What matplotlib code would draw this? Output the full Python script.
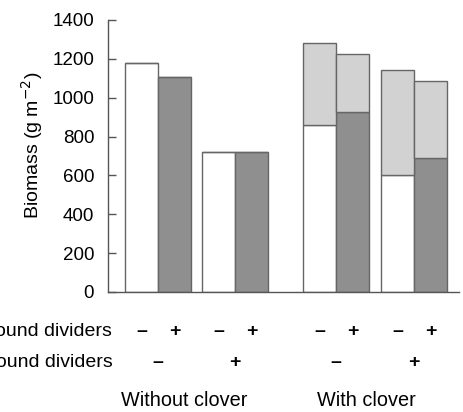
import matplotlib
matplotlib.use('Agg')
import matplotlib.pyplot as plt

plt.rcParams['font.family'] = ['Liberation Sans', 'DejaVu Sans']

# Biomass values (g m^-2)
groups = ['Without clover', 'With clover']
above_signs = ['\u2013', '+', '\u2013', '+', '\u2013', '+', '\u2013', '+']
below_signs = ['\u2013', '+', '\u2013', '+']
grass = [1180, 1105, 718, 718, 860, 925, 600, 688]
clover = [0, 0, 0, 0, 420, 300, 545, 400]
bar_fill = ['white', '#8f8f8f'] * 4

# bar left edges (in bar widths)
lefts = [0, 1, 2.33, 3.33, 5.39, 6.39, 7.76, 8.76]
centers = [x + 0.5 for x in lefts]
pair_centers = [(centers[i] + centers[i + 1]) / 2 for i in range(0, 8, 2)]

fig = plt.figure(figsize=(4.64, 4.12), dpi=100)
ax = fig.add_axes([0.2328, 0.2913, 0.7562, 0.6602])

ax.bar(centers, grass, width=1.0, color=bar_fill, edgecolor='#666666', linewidth=1.0)
ax.bar(centers, clover, width=1.0, bottom=grass, color='#d2d2d2',
       edgecolor='#666666', linewidth=1.0)

ax.set_xlim(-0.52, 10.12)
ax.set_ylim(0, 1400)
ax.set_yticks(range(0, 1401, 200))
ax.set_xticks([])
ax.spines['top'].set_visible(False)
ax.spines['right'].set_visible(False)
for s in ['left', 'bottom']:
    ax.spines[s].set_color('#555555')
    ax.spines[s].set_linewidth(1.0)
ax.tick_params(axis='y', direction='in', length=6, width=1, color='#555555',
               labelsize=13.5, pad=10)
ax.set_ylabel('Biomass (g m$^{-2}$)', fontsize=14)
ax.yaxis.set_label_coords(-0.18, 0.54)

# treatment rows below the axis
tr = ax.get_xaxis_transform()
for x, s in zip(centers, above_signs):
    ax.text(x, -0.145, s, transform=tr, ha='center', va='center', fontsize=14,
            fontweight='bold')
for x, s in zip(pair_centers, below_signs):
    ax.text(x, -0.258, s, transform=tr, ha='center', va='center', fontsize=14,
            fontweight='bold')
ax.text(-0.39, -0.145, 'Aboveground dividers', transform=tr, ha='right', va='center',
        fontsize=14)
ax.text(-0.39, -0.258, 'Belowground dividers', transform=tr, ha='right', va='center',
        fontsize=14)
ax.text((pair_centers[0] + pair_centers[1]) / 2 - 0.38, -0.398, groups[0],
        transform=tr, ha='center', va='center', fontsize=14.3)
ax.text((pair_centers[2] + pair_centers[3]) / 2 - 0.27, -0.398, groups[1],
        transform=tr, ha='center', va='center', fontsize=14.3)

fig.savefig('out.png', dpi=100, facecolor='white')
